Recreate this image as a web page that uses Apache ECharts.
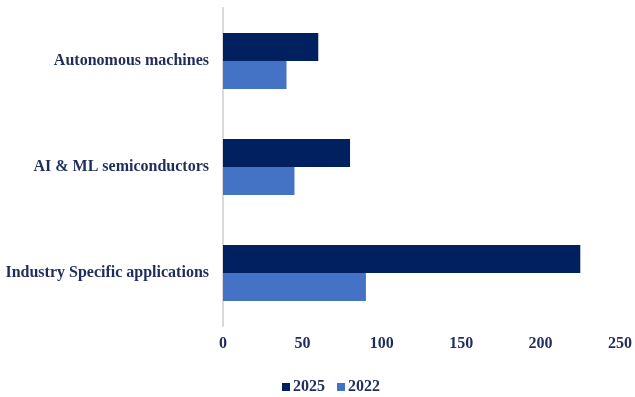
<!DOCTYPE html>
<html>
<head>
<meta charset="utf-8">
<script src="https://cdn.jsdelivr.net/npm/echarts@6/dist/echarts.min.js"></script>
<style>
  html, body { margin: 0; padding: 0; background: #fff; }
  #chart { width: 635px; height: 397px; }
</style>
</head>
<body>
<div id="chart"></div>
<script>
// Market segments, listed top to bottom
const categories = ['Autonomous machines', 'AI & ML semiconductors', 'Industry Specific applications'];
const values2025 = [60, 80, 225];
const values2022 = [40, 45, 90];
const xTicks = [0, 50, 100, 150, 200, 250];

const textColor = '#1F2D5C';
const font = '"Liberation Serif", "Times New Roman", serif';

const chart = echarts.init(document.getElementById('chart'));
chart.setOption({
  animation: false,
  textStyle: { fontFamily: font },
  grid: { left: 223, right: 12, top: 8, bottom: 71, containLabel: false },
  legend: {
    top: 374,
    left: 277,
    itemWidth: 8,
    itemHeight: 8,
    itemGap: 12,
    icon: 'rect',
    textStyle: { color: textColor, fontFamily: font, fontWeight: 'bold', fontSize: 16, padding: [0, 0, 0, -2] },
    data: ['2025', '2022']
  },
  xAxis: {
    type: 'value',
    min: xTicks[0],
    max: xTicks[xTicks.length - 1],
    interval: xTicks[1] - xTicks[0],
    splitLine: { show: false },
    axisLine: { show: false },
    axisTick: { show: false },
    axisLabel: { color: textColor, fontFamily: font, fontWeight: 'bold', fontSize: 16, margin: 10 }
  },
  yAxis: {
    type: 'category',
    inverse: true,
    data: categories,
    axisLine: { show: true, lineStyle: { color: '#D9D9D9', width: 2 } },
    axisTick: { show: false },
    axisLabel: { color: textColor, fontFamily: font, fontWeight: 'bold', fontSize: 16, margin: 14 }
  },
  series: [
    {
      name: '2025',
      type: 'bar',
      data: values2025,
      barCategoryGap: '47%',
      barGap: '0%',
      itemStyle: { color: '#002060' }
    },
    {
      name: '2022',
      type: 'bar',
      data: values2022,
      barCategoryGap: '47%',
      barGap: '0%',
      itemStyle: { color: '#4472C4' }
    }
  ]
});
</script>
</body>
</html>
